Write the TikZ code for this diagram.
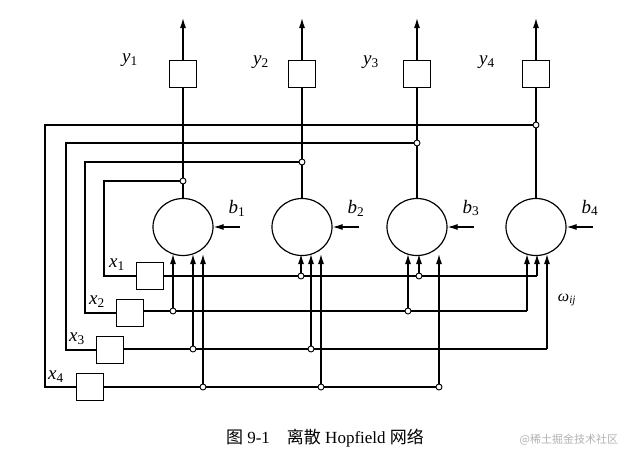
\documentclass[tikz,border=0pt]{standalone}
\usepackage{fontspec}
\setmainfont{Liberation Serif}
\newfontfamily\cjk{Noto Sans CJK SC}
\usetikzlibrary{arrows.meta,shapes.geometric}
\newcommand{\vsub}[2]{\textit{#1}\textsubscript{#2}}
\begin{document}
\begin{tikzpicture}[x=1pt,y=-1pt,line width=1.2pt,
  neuron/.style={draw,ellipse,minimum width=60pt,minimum height=57pt,inner sep=0pt},
  box/.style={draw,minimum width=27pt,minimum height=27pt,inner sep=0pt},
  dot/.style={draw,circle,fill=white,minimum size=6pt,inner sep=0pt,line width=0.9pt},
  arr/.style={-{Latex[length=10pt,width=6pt]}},
  lab/.style={font=\fontsize{19}{19}\selectfont}]
\useasboundingbox (0,0) rectangle (625,464);
\foreach \i/\x in {1/183,2/302,3/417,4/536}{
  \node[neuron] (n\i) at (\x,227) {};
  \node[box] (o\i) at (\x,74) {};
  \coordinate (t\i) at (\x,18);
  \draw (n\i.north) -- (o\i.south);
  \draw[arr] (o\i.north) -- (t\i);
  \coordinate (bs\i) at (\x+57,227);
  \draw[arr] (bs\i) -- (n\i.east);
  \node[lab] (bl\i) at (\x+54,208) {\vsub{b}{\i}};
}
\node[lab] (yl1) at (130,60) {\vsub{y}{1}};
\node[lab] (yl2) at (261,62) {\vsub{y}{2}};
\node[lab] (yl3) at (371,62) {\vsub{y}{3}};
\node[lab] (yl4) at (487,62) {\vsub{y}{4}};
\node[dot] (f1) at (183,181) {};
\node[dot] (f2) at (302,162) {};
\node[dot] (f3) at (417,143) {};
\node[dot] (f4) at (536,125) {};
\node[box] (i1) at (150,276) {};
\node[box] (i2) at (130,313) {};
\node[box] (i3) at (110,350) {};
\node[box] (i4) at (90,387) {};
\node[lab] (xl1) at (117,265) {\vsub{x}{1}};
\node[lab] (xl2) at (97,302) {\vsub{x}{2}};
\node[lab] (xl3) at (77,339) {\vsub{x}{3}};
\node[lab] (xl4) at (56,377) {\vsub{x}{4}};
\draw (f1) -- (104,181) |- (i1.west);
\draw (f2) -- (85,162) |- (i2.west);
\draw (f3) -- (66,143) |- (i3.west);
\draw (f4) -- (45,125) |- (i4.west);
\coordinate (r1e) at (537,276);
\node[dot] (d12) at (301,276) {};
\node[dot] (d13) at (419,276) {};
\draw (i1.east) -- (d12) -- (d13) -- (r1e);
\draw[arr] (d12) -- (301,254);
\draw[arr] (d13) -- (419,254);
\draw[arr] (r1e) -- (537,254);
\coordinate (r2e) at (527,311);
\node[dot] (d21) at (173,311) {};
\node[dot] (d23) at (408,311) {};
\draw (i2.east |- d21) -- (d21) -- (d23) -- (r2e);
\draw[arr] (d21) -- (173,254);
\draw[arr] (d23) -- (408,254);
\draw[arr] (r2e) -- (527,254);
\coordinate (r3e) at (547,349);
\node[dot] (d31) at (193,349) {};
\node[dot] (d32) at (311,349) {};
\draw (i3.east |- d31) -- (d31) -- (d32) -- (r3e);
\draw[arr] (d31) -- (193,254);
\draw[arr] (d32) -- (311,254);
\draw[arr] (r3e) -- (547,254);
\node[dot] (d41) at (203,387) {};
\node[dot] (d42) at (321,387) {};
\node[dot] (d43) at (439,387) {};
\draw (i4.east) -- (d41) -- (d42) -- (d43);
\draw[arr] (d41) -- (203,254);
\draw[arr] (d42) -- (321,254);
\draw[arr] (d43) -- (439,254);
\node[font=\fontsize{16}{16}\selectfont] (w) at (567,300) {\textit{ω}\textsubscript{\textit{ij}}};
\node[font=\fontsize{17}{17}\selectfont] (cap) at (325,438) {{\cjk 图} 9-1\quad {\cjk 离散} Hopfield {\cjk 网络}};
\node[font=\cjk\fontsize{11}{11}\selectfont,text=gray!60,anchor=east] (wm) at (622,440) {@稀土掘金技术社区};
\end{tikzpicture}
\end{document}
